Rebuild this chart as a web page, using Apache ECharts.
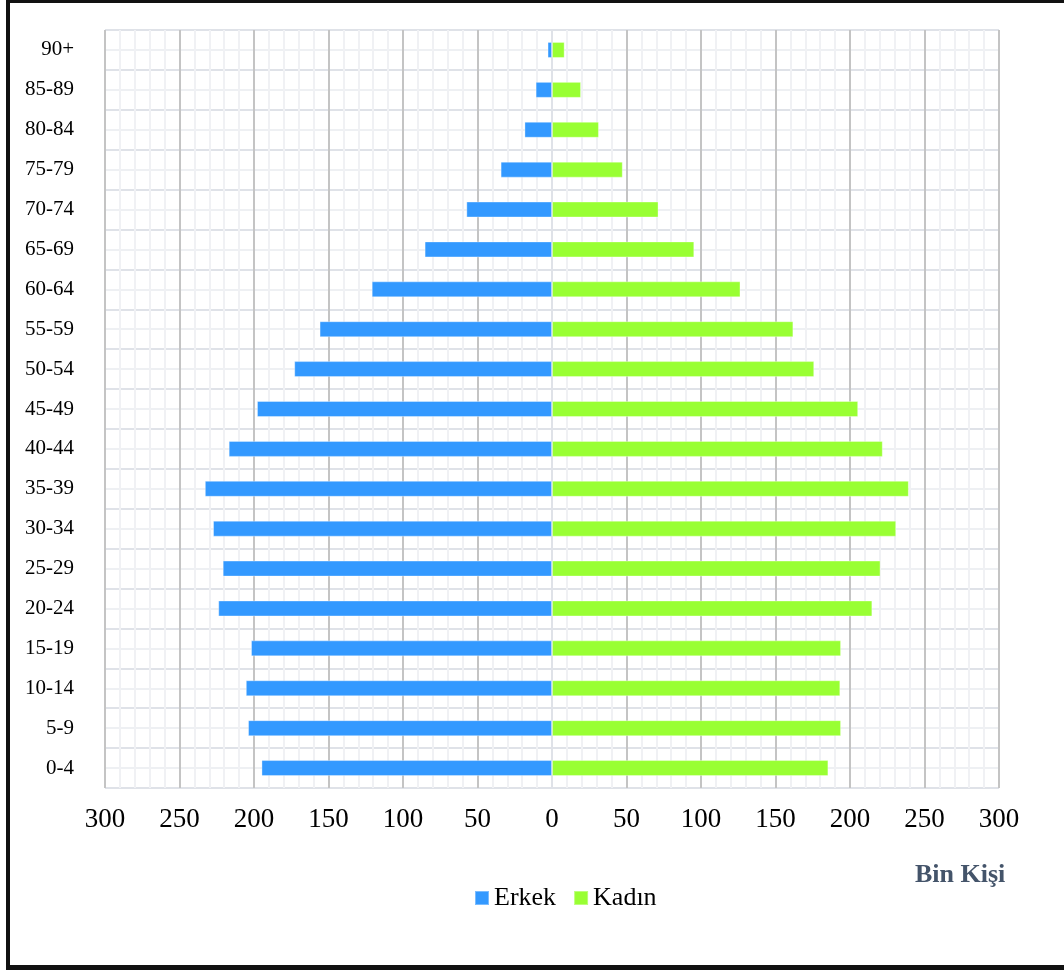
<!DOCTYPE html>
<html>
<head>
<meta charset="utf-8">
<script src="https://cdn.jsdelivr.net/npm/echarts@6/dist/echarts.min.js"></script>
<style>
html,body{margin:0;padding:0;background:#fff;}
#c{position:absolute;left:0;top:0;width:1064px;height:971px;}
#frame{position:absolute;left:6px;top:0;width:1100px;height:962px;border-top:3px solid #111;border-left:4px solid #111;border-bottom:5px solid #111;pointer-events:none;}
</style>
</head>
<body>
<div id="c"></div>
<div id="frame"></div>
<script>
const categories = ['0-4','5-9','10-14','15-19','20-24','25-29','30-34','35-39','40-44','45-49','50-54','55-59','60-64','65-69','70-74','75-79','80-84','85-89','90+'];
const erkek = [195, 204, 205.5, 202, 224, 221, 227.5, 233, 217, 198, 173, 156, 121, 85.5, 57.5, 34.5, 18.5, 11, 3];
const kadin = [185.5, 194, 193.5, 194, 215, 220.5, 231, 239.5, 222, 205.5, 176, 162, 126.5, 95.5, 71.5, 47.5, 31.5, 19.5, 8.5];
const xTicks = [-300,-250,-200,-150,-100,-50,0,50,100,150,200,250,300];
const legendNames = ['Erkek','Kadın'];
const unitLabel = 'Bin Kişi';

const FONT = '"Liberation Serif","Times New Roman",serif';
const MAJOR = '#c4c4c4', ZERO = '#dfe2e8', MINOR = '#f0f1f4', HB = '#dfe2e8', HM = '#eef0f3';
const chart = echarts.init(document.getElementById('c'), null, {renderer:'canvas'});
chart.setOption({
  backgroundColor: 'transparent',
  animation: false,
  grid: {left: 105, right: 65, top: 30, bottom: 183, containLabel: false},
  legend: {
    data: legendNames, left: 469, top: 880, icon: 'rect', itemWidth: 14, itemHeight: 14, itemGap: 17,
    textStyle: {fontFamily: FONT, fontSize: 26, color: '#000'}
  },
  graphic: [{
    type: 'text', left: 915, top: 862,
    style: {text: unitLabel, font: 'bold 26px ' + FONT, fill: '#44546a'}
  }],
  xAxis: {
    type: 'value', min: xTicks[0], max: xTicks[xTicks.length-1], interval: 50,
    axisLine: {show: false}, axisTick: {show: false},
    axisLabel: {fontFamily: FONT, fontSize: 27, color: '#000', margin: 18, formatter: v => String(Math.abs(v))},
    splitLine: {show: true, lineStyle: {width: 2, color: xTicks.map(v => v === 0 ? ZERO : MAJOR)}},
    minorTick: {show: true, splitNumber: 5, length: 0, lineStyle: {width: 0}},
    minorSplitLine: {show: true, lineStyle: {width: 2, color: MINOR}}
  },
  yAxis: [{
    type: 'category', data: categories,
    axisLine: {show: false}, axisTick: {show: false}, splitLine: {show: false},
    axisLabel: {fontFamily: FONT, fontSize: 21, color: '#000', margin: 31, padding: [2, 0, 0, 0]}
  }, {
    type: 'value', min: 0, max: categories.length * 2, interval: 1, position: 'right',
    axisLine: {show: false}, axisTick: {show: false}, axisLabel: {show: false},
    splitLine: {show: true, lineStyle: {width: 2, color: [HB, HM]}}
  }],
  series: [{
    name: legendNames[0], type: 'bar', yAxisIndex: 0, barWidth: 16, barGap: '-100%',
    data: erkek.map(v => -v),
    itemStyle: {color: '#3399ff', borderColor: 'rgba(255,255,255,0.35)', borderWidth: 1}
  }, {
    name: legendNames[1], type: 'bar', yAxisIndex: 0, barWidth: 16, barGap: '-100%',
    data: kadin,
    itemStyle: {color: '#99ff33', borderColor: 'rgba(255,255,255,0.35)', borderWidth: 1}
  }]
});
</script>
</body>
</html>
